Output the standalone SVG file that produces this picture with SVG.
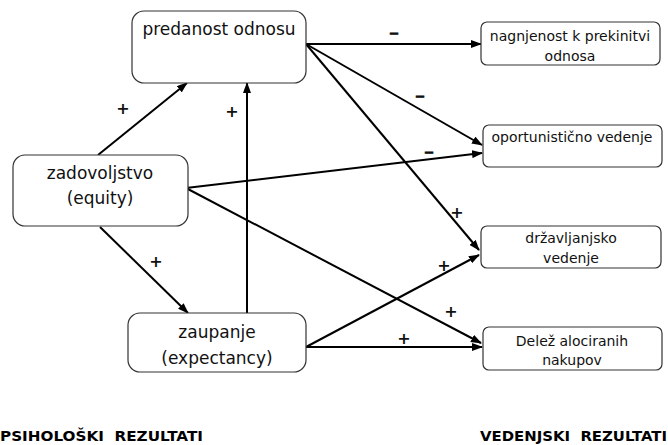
<svg xmlns="http://www.w3.org/2000/svg" width="668" height="445" viewBox="0 0 668 445">
  <defs>
    <marker id="arrow" markerUnits="userSpaceOnUse" markerWidth="11" markerHeight="8" refX="10" refY="4" orient="auto">
      <path d="M0,0 L11,4 L0,8 z" fill="#000"/>
    </marker>
    <style>
      .box { fill: #fff; stroke: #333; stroke-width: 1.2; }
      .big { font-family: "DejaVu Sans", Verdana, sans-serif; font-size: 17px; fill: #111; text-anchor: middle; }
      .small { font-family: "DejaVu Sans", Verdana, sans-serif; font-size: 14px; fill: #111; text-anchor: middle; }
      .edge { stroke: #000; stroke-width: 2; fill: none; marker-end: url(#arrow); }
      .plus { font-family: "DejaVu Sans", Verdana, sans-serif; font-size: 16px; font-weight: bold; fill: #111; text-anchor: middle; }
      .minus { font-family: "DejaVu Sans", Verdana, sans-serif; font-size: 19px; fill: #111; stroke: #111; stroke-width: 0.9; text-anchor: middle; }
      .foot { font-family: "DejaVu Sans", Verdana, sans-serif; font-size: 14.5px; font-weight: bold; fill: #000; }
    </style>
  </defs>

  <rect width="668" height="445" fill="#fff"/>

  <!-- connectors -->
  <g id="connectors">
    <line class="edge" x1="306" y1="44" x2="481" y2="44"/>
    <line class="edge" x1="306" y1="44" x2="482" y2="145"/>
    <line class="edge" x1="306" y1="44" x2="479" y2="250"/>
    <line class="edge" x1="186" y1="188" x2="482" y2="153"/>
    <line class="edge" x1="186" y1="188" x2="481" y2="343"/>
    <line class="edge" x1="98" y1="155" x2="187" y2="83"/>
    <line class="edge" x1="100" y1="227" x2="188" y2="313"/>
    <line class="edge" x1="247" y1="313" x2="247" y2="83"/>
    <line class="edge" x1="306" y1="347" x2="479" y2="255"/>
    <line class="edge" x1="306" y1="347" x2="482" y2="347"/>

    <!-- signs on the links -->
    <text class="minus" x="394" y="39">–</text>
    <text class="minus" x="420" y="102">–</text>
    <text class="minus" x="429" y="158">–</text>
    <text class="plus" x="457" y="218">+</text>
    <text class="plus" x="444" y="271">+</text>
    <text class="plus" x="451" y="317">+</text>
    <text class="plus" x="404" y="344">+</text>
    <text class="plus" x="123" y="114">+</text>
    <text class="plus" x="232" y="117">+</text>
    <text class="plus" x="156" y="267">+</text>
  </g>

  <!-- psychological outcomes -->
  <g id="predanost">
    <rect class="box" x="132" y="11" width="174" height="72" rx="12"/>
    <text class="big" x="219" y="35">predanost odnosu</text>
  </g>
  <g id="zadovoljstvo">
    <rect class="box" x="13" y="155" width="175" height="71" rx="12"/>
    <text class="big" x="100" y="179">zadovoljstvo</text>
    <text class="big" x="100" y="204">(equity)</text>
  </g>
  <g id="zaupanje">
    <rect class="box" x="128" y="313" width="178" height="59" rx="12"/>
    <text class="big" x="217" y="338">zaupanje</text>
    <text class="big" x="217" y="364">(expectancy)</text>
  </g>

  <!-- behavioural outcomes -->
  <g id="nagnjenost">
    <rect class="box" x="481" y="22" width="179" height="43" rx="6"/>
    <text class="small" x="570" y="41">nagnjenost k prekinitvi</text>
    <text class="small" x="570" y="61">odnosa</text>
  </g>
  <g id="oportunisticno">
    <rect class="box" x="483" y="125" width="179" height="42" rx="6"/>
    <text class="small" x="572" y="142">oportunistično vedenje</text>
  </g>
  <g id="drzavljanjsko">
    <rect class="box" x="481" y="226" width="180" height="42" rx="6"/>
    <text class="small" x="571" y="243">državljanjsko</text>
    <text class="small" x="571" y="263">vedenje</text>
  </g>
  <g id="delez">
    <rect class="box" x="483" y="327" width="179" height="43" rx="6"/>
    <text class="small" x="572" y="346">Delež alociranih</text>
    <text class="small" x="572" y="365">nakupov</text>
  </g>

  <!-- column captions -->
  <text class="foot" x="0" y="441" textLength="203" lengthAdjust="spacingAndGlyphs" xml:space="preserve">PSIHOLOŠKI  REZULTATI</text>
  <text class="foot" x="480" y="441" textLength="187" lengthAdjust="spacingAndGlyphs" xml:space="preserve">VEDENJSKI  REZULTATI</text>
</svg>
